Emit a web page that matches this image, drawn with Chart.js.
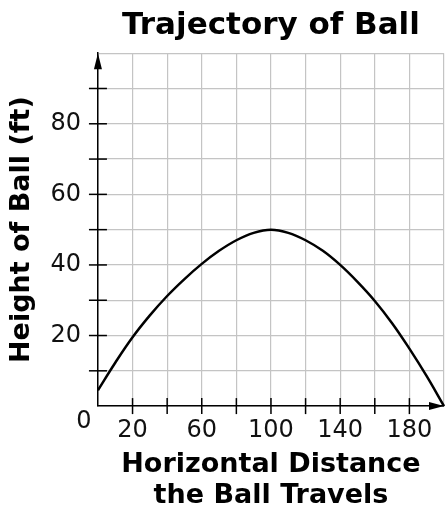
<!DOCTYPE html>
<html>
<head>
<meta charset="utf-8">
<script src="https://cdn.jsdelivr.net/npm/chart.js@4.4.0/dist/chart.umd.min.js"></script>
<style>
html, body { margin: 0; padding: 0; background: #fff; }
#wrap { width: 446px; height: 512px; }
</style>
</head>
<body>
<div id="wrap"><canvas id="trajectoryChart"></canvas></div>
<script>
// Values
const distances = [0, 10, 20, 30, 40, 50, 60, 70, 80, 90, 100, 110, 120, 130, 140, 150, 160, 170, 180, 190, 200];
const heights = [4.5, 12.3, 19.5, 25.7, 31.2, 36, 40.3, 44, 47, 49.1, 50, 49.1, 47, 44, 40, 35.2, 29.8, 23.5, 16.3, 8.5, 0];
const xTickLabels = [20, 60, 100, 140, 180];
const yTickLabels = [20, 40, 60, 80];

const FONT = "'DejaVu Sans', Verdana, sans-serif";

// Black tick marks crossing the axes, arrow heads and the "0" at the origin
const axisDecor = {
    id: 'axisDecor',
    afterDraw(chart) {
        const ctx = chart.ctx;
        const x = chart.scales.x;
        const y = chart.scales.y;
        const x0 = x.getPixelForValue(x.min);
        const y0 = y.getPixelForValue(y.min);
        const xEnd = x.getPixelForValue(x.max);
        const yEnd = y.getPixelForValue(y.max);

        ctx.save();
        ctx.strokeStyle = '#000';
        ctx.fillStyle = '#000';
        ctx.lineWidth = 1.5;

        x.ticks.forEach(function(t) {
            if (t.value > x.min && t.value < x.max) {
                const px = x.getPixelForValue(t.value);
                ctx.beginPath();
                ctx.moveTo(px, y0 - 8);
                ctx.lineTo(px, y0 + 8);
                ctx.stroke();
            }
        });
        y.ticks.forEach(function(t) {
            if (t.value > y.min && t.value < y.max) {
                const py = y.getPixelForValue(t.value);
                ctx.beginPath();
                ctx.moveTo(x0 - 9, py);
                ctx.lineTo(x0 + 9, py);
                ctx.stroke();
            }
        });

        // arrow heads
        ctx.beginPath();
        ctx.moveTo(x0, yEnd);
        ctx.lineTo(x0 - 4, yEnd + 16);
        ctx.lineTo(x0 + 4, yEnd + 16);
        ctx.closePath();
        ctx.fill();

        ctx.beginPath();
        ctx.moveTo(xEnd, y0);
        ctx.lineTo(xEnd - 15, y0 - 4);
        ctx.lineTo(xEnd - 15, y0 + 4);
        ctx.closePath();
        ctx.fill();

        ctx.font = '24px ' + FONT;
        ctx.textAlign = 'center';
        ctx.textBaseline = 'middle';
        ctx.fillStyle = '#111';
        ctx.fillText('0', x0 - 14, y0 + 16);
        ctx.restore();
    }
};

const ctx = document.getElementById('trajectoryChart').getContext('2d');
const trajectoryChart = new Chart(ctx, {
    type: 'scatter',
    data: {
        datasets: [{
            label: 'Height of Ball',
            data: distances.map((d, i) => ({ x: d, y: heights[i] })),
            showLine: true,
            borderColor: '#000',
            borderWidth: 2.5,
            pointRadius: 0,
            tension: 0.4,
            clip: false
        }]
    },
    options: {
        responsive: true,
        maintainAspectRatio: false,
        animation: false,
        layout: {
            padding: { left: 5, right: 0, top: 0, bottom: 0 }
        },
        plugins: {
            legend: { display: false },
            tooltip: { enabled: false },
            title: {
                display: true,
                fullSize: false,
                text: 'Trajectory of Ball',
                color: '#000',
                font: { family: FONT, size: 31, weight: 'bold' },
                padding: { top: 7, bottom: 9 }
            }
        },
        scales: {
            x: {
                type: 'linear',
                min: 0,
                max: 200,
                border: { display: true, color: '#000', width: 1.5 },
                grid: {
                    color: '#c4c4c4',
                    lineWidth: 1.2,
                    tickLength: 8,
                    tickColor: 'rgba(0,0,0,0)'
                },
                ticks: {
                    stepSize: 20,
                    autoSkip: false,
                    maxRotation: 0,
                    padding: 2,
                    color: '#111',
                    font: { family: FONT, size: 24 },
                    callback: v => xTickLabels.includes(v) ? String(v) : ''
                },
                title: {
                    display: true,
                    text: ['Horizontal Distance', 'the Ball Travels'],
                    color: '#000',
                    font: { family: FONT, size: 27, weight: 'bold', lineHeight: 1.15 },
                    padding: { top: 3, bottom: 0 }
                }
            },
            y: {
                type: 'linear',
                min: 0,
                max: 100,
                border: { display: true, color: '#000', width: 1.5 },
                grid: {
                    color: '#c4c4c4',
                    lineWidth: 1.2,
                    tickLength: 9,
                    tickColor: 'rgba(0,0,0,0)'
                },
                ticks: {
                    stepSize: 10,
                    autoSkip: false,
                    padding: 8,
                    color: '#111',
                    font: { family: FONT, size: 24 },
                    callback: v => yTickLabels.includes(v) ? String(v) : ''
                },
                title: {
                    display: true,
                    text: 'Height of Ball (ft)',
                    color: '#000',
                    font: { family: FONT, size: 27, weight: 'bold' },
                    padding: { top: 1, bottom: 4 }
                }
            }
        }
    },
    plugins: [axisDecor]
});
</script>
</body>
</html>
